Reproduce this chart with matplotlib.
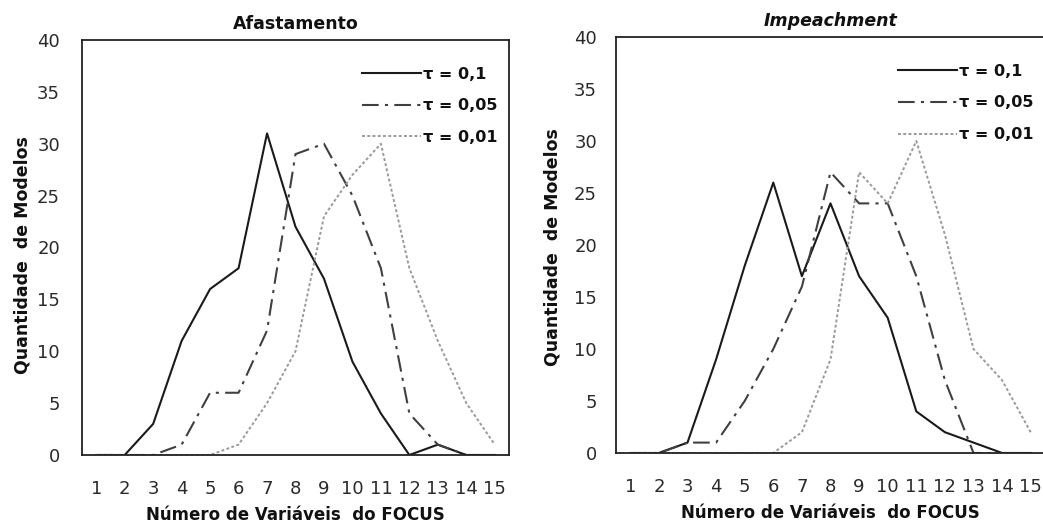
import matplotlib
matplotlib.use("Agg")
import matplotlib.pyplot as plt

categories = list(range(1, 16))
tick_labels = [str(c) for c in categories]
legend_labels = ["τ = 0,1", "τ = 0,05", "τ = 0,01"]

afast_t01 = [0, 0, 3, 11, 16, 18, 31, 22, 17, 9, 4, 0, 1, 0, 0]
afast_t005 = [0, 0, 0, 1, 6, 6, 12, 29, 30, 25, 18, 4, 1, 0, 0]
afast_t001 = [0, 0, 0, 0, 0, 1, 5, 10, 23, 27, 30, 18, 11, 5, 1]

imp_t01 = [0, 0, 1, 9, 18, 26, 17, 24, 17, 13, 4, 2, 1, 0, 0]
imp_t005 = [0, 0, 1, 1, 5, 10, 16, 27, 24, 24, 17, 7, 0, 0, 0]
imp_t001 = [0, 0, 0, 0, 0, 0, 2, 9, 27, 24, 30, 21, 10, 7, 2]

W, H = 1043, 526
fig = plt.figure(figsize=(W / 100, H / 100), dpi=100)

styles = [
    dict(color="#1a1a1a", lw=1.5, linestyle="-"),
    dict(color="#404040", lw=1.5, linestyle=(0, (8, 3, 1.5, 3))),
    dict(color="#9a9a9a", lw=1.4, linestyle=(0, (1.5, 1.2))),
]

def make_panel(rect_px, series, title, italic, ylab_x, ylab_y, pad_px):
    l, r, t, b = rect_px
    ax = fig.add_axes([l / W, 1 - b / H, (r - l) / W, (b - t) / H])
    x = list(range(len(categories)))
    for s, st, lab in zip(series, styles, legend_labels):
        ax.plot(x, s, label=lab, **st)
    ax.set_xlim(-0.5, len(categories) - 0.5)
    ax.set_ylim(0, 40)
    ax.set_yticks(range(0, 41, 5))
    ax.set_xticks(x)
    ax.set_xticklabels(tick_labels)
    ax.tick_params(axis="both", length=0, labelsize=13, colors="#2a2a2a")
    ax.tick_params(axis="y", pad=pad_px * 0.72)
    ax.tick_params(axis="x", pad=18)
    for sp in ax.spines.values():
        sp.set_color("#222222")
        sp.set_linewidth(1.3)
    ax.set_xlabel("Número de Variáveis  do FOCUS", fontsize=12, fontweight="bold",
                  labelpad=6, color="#111111")
    ax.set_ylabel("Quantidade  de Modelos", fontsize=12.5, fontweight="bold", color="#111111")
    ax.yaxis.set_label_coords((ylab_x + 9 - l) / (r - l), (b - ylab_y) / (b - t))
    ax.set_title(title, fontsize=12.5, fontweight="bold",
                 fontstyle="italic" if italic else "normal", pad=8, color="#111111")
    leg = ax.legend(loc="upper right", bbox_to_anchor=(1.0, 0.963), frameon=False,
                    handlelength=3.7, handletextpad=0.15, labelspacing=1.05,
                    borderaxespad=0.3,
                    prop={"weight": "bold", "size": 11.5})
    for txt in leg.get_texts():
        txt.set_color("#111111")
    return ax

make_panel((82, 509, 40, 455), [afast_t01, afast_t005, afast_t001],
           "Afastamento", False, 23, 255, 22)
make_panel((616, 1045, 37, 453), [imp_t01, imp_t005, imp_t001],
           "Impeachment", True, 553, 247, 19)

fig.savefig("out.png", dpi=100)
